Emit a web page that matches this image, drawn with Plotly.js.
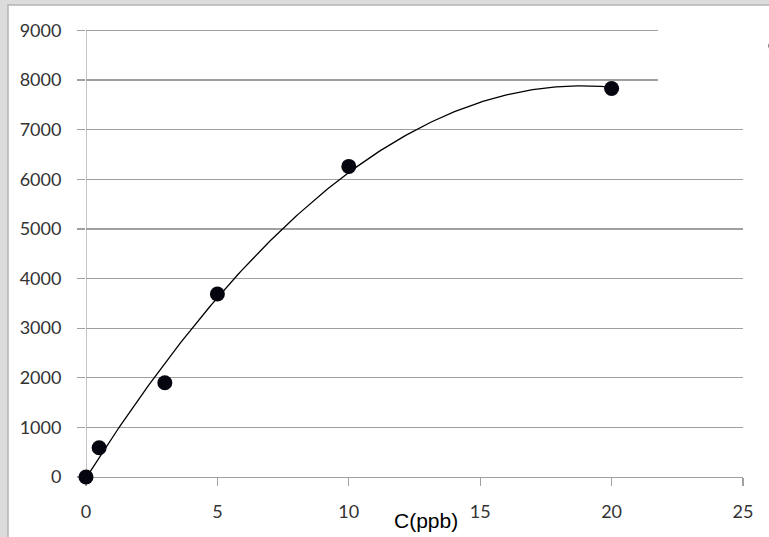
<!DOCTYPE html>
<html>
<head>
<meta charset="utf-8">
<script src="https://cdn.plot.ly/plotly-3.0.1.min.js"></script>
<style>html,body{margin:0;padding:0;background:#dcdcdc;}#chart{width:769px;height:537px;}</style>
</head>
<body>
<div id="chart"></div>
<script>
// Measured points
const concentration = [0, 0.5, 3, 5, 10, 20];
const signal = [0, 590, 1900, 3690, 6260, 7830];
const xTicks = [0, 5, 10, 15, 20, 25];
const yTicks = [0, 1000, 2000, 3000, 4000, 5000, 6000, 7000, 8000, 9000];
const xTitle = 'C(ppb)';

// Polynomial (order 2) least-squares trendline, as Excel does
function polyFit2(xs, ys) {
  const S = [0,0,0,0,0], T = [0,0,0];
  for (let i = 0; i < xs.length; i++) {
    let p = 1;
    for (let k = 0; k < 5; k++) { S[k] += p; if (k < 3) T[k] += p * ys[i]; p *= xs[i]; }
  }
  const A = [[S[0],S[1],S[2],T[0]],[S[1],S[2],S[3],T[1]],[S[2],S[3],S[4],T[2]]];
  for (let c = 0; c < 3; c++) {
    for (let r = c + 1; r < 3; r++) {
      const f = A[r][c] / A[c][c];
      for (let k = c; k < 4; k++) A[r][k] -= f * A[c][k];
    }
  }
  const x = [0,0,0];
  for (let r = 2; r >= 0; r--) {
    let s = A[r][3];
    for (let k = r + 1; k < 3; k++) s -= A[r][k] * x[k];
    x[r] = s / A[r][r];
  }
  return x;
}
const coef = polyFit2(concentration, signal);
const fitX = [], fitY = [];
const xMax = Math.max(...concentration);
for (let i = 0; i <= 200; i++) {
  const xv = xMax * i / 200;
  fitX.push(xv);
  fitY.push(coef[0] + coef[1] * xv + coef[2] * xv * xv);
}

const tickFont = {family: 'Lato, sans-serif', size: 18, color: '#333333'};
const gridCol = '#a0a0a0';

const traces = [
  {x: fitX, y: fitY, mode: 'lines', line: {color: '#000', width: 1.3}, showlegend: false, hoverinfo: 'skip', cliponaxis: false},
  {x: concentration, y: signal, mode: 'markers', name: ' ',
   marker: {color: '#05050f', size: 15}, showlegend: true, cliponaxis: false}
];

const layout = {
  width: 769, height: 537,
  margin: {l: 86, r: 26, t: 28, b: 60, autoexpand: false},
  paper_bgcolor: '#dcdcdc', plot_bgcolor: 'rgba(0,0,0,0)',
  showlegend: true,
  legend: {x: 1.0198, xanchor: 'left', y: 0.9993, yanchor: 'top', bgcolor: 'rgba(0,0,0,0)',
           font: {family: 'Lato, sans-serif', size: 17, color: '#404040'}},
  xaxis: {range: [0, 25], tickvals: xTicks, ticktext: xTicks.map(String),
          showgrid: false, zeroline: false, showline: true, linecolor: gridCol, linewidth: 1.2,
          ticks: 'outside', ticklen: 8, tickcolor: gridCol, tickwidth: 1.2, layer: 'below traces',
          ticklabelstandoff: 10, tickfont: tickFont, fixedrange: true},
  yaxis: {range: [0, 9050], tickvals: yTicks, ticktext: yTicks.map(String),
          showgrid: true, gridcolor: gridCol, gridwidth: 1.2, zeroline: false,
          showline: false, layer: 'below traces',
          ticks: 'outside', ticklen: 8, tickcolor: gridCol, tickwidth: 1.2,
          ticklabelstandoff: 12, tickfont: tickFont, fixedrange: true},
  shapes: [
    {type: 'rect', xref: 'paper', yref: 'paper', x0: -0.1187, x1: 1.2, y0: -0.3, y1: 1.0512,
     fillcolor: '#ffffff', line: {color: '#b4b4b4', width: 1.5}, layer: 'below'},
    {type: 'rect', xref: 'paper', yref: 'paper', x0: 0.8706, x1: 1.2, y0: 0.8285, y1: 1.045,
     fillcolor: '#ffffff', line: {width: 0}, layer: 'above'},
    {type: 'line', xref: 'x', yref: 'y', x0: 0, x1: 0, y0: 0, y1: 9000,
     line: {color: gridCol, width: 1.2}, layer: 'below'}
  ],
  annotations: [
    {text: xTitle, xref: 'paper', yref: 'paper', x: 0.5176, y: -0.0958, xanchor: 'center', yanchor: 'middle',
     showarrow: false, font: {family: 'Liberation Sans, Arial, sans-serif', size: 21, color: '#000'}}
  ]
};

Plotly.newPlot('chart', traces, layout, {displayModeBar: false, staticPlot: true});
</script>
</body>
</html>
